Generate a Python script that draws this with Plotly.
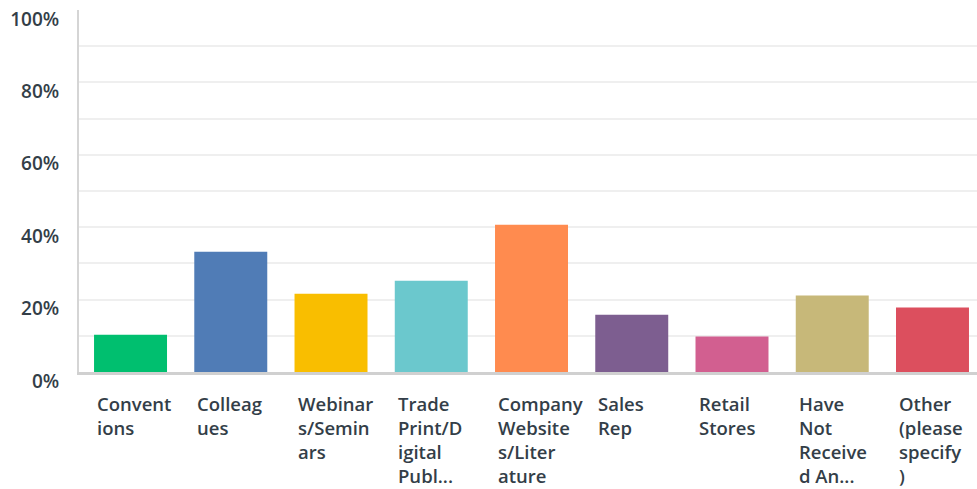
import plotly.graph_objects as go

# survey answer choices (as wrapped/truncated on the chart)
categories = [
    "Conventions", "Colleagues", "Webinars/Seminars", "Trade Print/Digital Publ...",
    "Company Website s/Literature", "Sales Rep", "Retail Stores",
    "Have Not Received An...", "Other (please specify)",
]
tick_labels = [
    "Convent<br>ions",
    "Colleag<br>ues",
    "Webinar<br>s/Semin<br>ars",
    "Trade<br>Print/D<br>igital<br>Publ...",
    "Company<br>Website<br>s/Liter<br>ature",
    "Sales<br>Rep",
    "Retail<br>Stores",
    "Have<br>Not<br>Receive<br>d An...",
    "Other<br>(please<br>specify<br>)",
]
shares = [0.103, 0.332, 0.216, 0.252, 0.407, 0.158, 0.098, 0.211, 0.178]
colors = ["#00bf6f", "#507cb6", "#f9be00", "#6bc8cd", "#ff8b4f",
          "#7d5e90", "#d25f90", "#c7b879", "#dc4f5e"]

text_color = "#333e48"
font_family = "Open Sans"
bar_width = 0.728

x_idx = list(range(len(categories)))

fig = go.Figure()
fig.add_trace(
    go.Bar(
        x=x_idx,
        y=shares,
        width=bar_width,
        marker=dict(color=colors, line=dict(width=0)),
        hovertext=categories,
        showlegend=False,
    )
)

# left-aligned multi-line category labels under each bar
for i, label in enumerate(tick_labels):
    fig.add_annotation(
        x=i - bar_width / 2,
        y=0,
        xref="x",
        yref="y",
        text=label,
        showarrow=False,
        xanchor="left",
        yanchor="top",
        align="left",
        xshift=1,
        yshift=-17,
        font=dict(family=font_family, size=18.5, color=text_color, weight=600),
    )

fig.update_layout(
    width=977,
    height=489,
    margin=dict(l=79, r=0, t=10, b=117),
    plot_bgcolor="white",
    paper_bgcolor="white",
    bargap=0.27,
)
fig.update_xaxes(
    range=[-0.514, 8.444],
    showticklabels=False,
    showgrid=False,
    zeroline=False,
    showline=True,
    linecolor="#d0d0d0",
    linewidth=3,
    ticks="",
    automargin=False,
)
fig.update_yaxes(
    range=[0, 1],
    tickvals=[0, 0.2, 0.4, 0.6, 0.8, 1.0],
    tickformat=".0%",
    ticks="",
    ticklabelstandoff=14,
    ticklabelshift=9,
    tickfont=dict(family=font_family, size=19, color=text_color, weight=600),
    showgrid=True,
    gridcolor="#efefef",
    gridwidth=2,
    minor=dict(dtick=0.1, showgrid=True, gridcolor="#efefef", gridwidth=2),
    zeroline=False,
    showline=True,
    linecolor="#d5d5d5",
    linewidth=2,
    automargin=False,
)

fig.write_html(
    "out.html",
    config={"displayModeBar": False},
    post_script="document.body.style.margin='0';",
)
